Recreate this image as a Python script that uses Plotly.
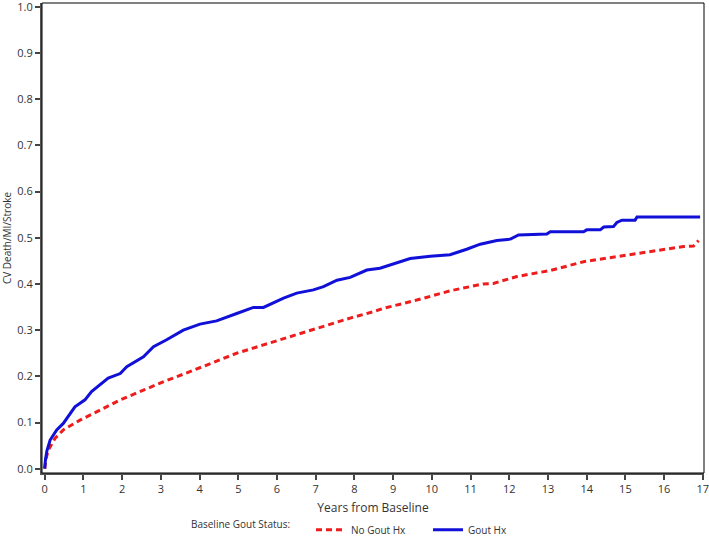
import plotly.graph_objects as go

# Gout Hx (blue)
gout_x = [0, 0.02, 0.06, 0.14, 0.31, 0.48, 0.78, 1.04, 1.21, 1.64, 1.95, 2.12, 2.55, 2.81, 3.15, 3.58,
          4.01, 4.44, 4.96, 5.39, 5.65, 6.17, 6.51, 6.94, 7.20, 7.55, 7.89, 8.06, 8.32, 8.66, 9.10,
          9.44, 9.96, 10.47, 10.90, 11.25, 11.68, 12.03, 12.24, 12.97, 13.06, 13.92, 14.0, 14.35,
          14.44, 14.69, 14.78, 14.91, 15.25, 15.30, 16.93]
gout_y = [0, 0.02, 0.04, 0.062, 0.084, 0.098, 0.134, 0.149, 0.167, 0.196, 0.206, 0.221, 0.242, 0.264,
          0.279, 0.300, 0.313, 0.320, 0.336, 0.349, 0.349, 0.369, 0.380, 0.387, 0.394, 0.408, 0.414,
          0.421, 0.430, 0.434, 0.445, 0.455, 0.460, 0.463, 0.475, 0.486, 0.494, 0.497, 0.506, 0.508,
          0.513, 0.513, 0.517, 0.517, 0.523, 0.524, 0.533, 0.538, 0.538, 0.545, 0.545]

# No Gout Hx (red)
nogout_x = [0, 0.03, 0.09, 0.27, 0.48, 0.91, 1.34, 1.95, 2.55, 3.06, 3.75, 4.44, 4.96, 5.65, 6.34,
            7.03, 7.72, 7.89, 8.41, 8.75, 9.61, 10.47, 11.33, 11.59, 12.20, 13.06, 13.92, 14.78,
            15.64, 16.50, 16.76, 16.89]
nogout_y = [0, 0.02, 0.040, 0.066, 0.084, 0.105, 0.123, 0.149, 0.170, 0.188, 0.210, 0.232, 0.250,
            0.268, 0.286, 0.304, 0.322, 0.326, 0.338, 0.347, 0.365, 0.385, 0.400, 0.401, 0.416,
            0.429, 0.448, 0.459, 0.470, 0.481, 0.482, 0.494]

x_ticks = list(range(0, 18))
y_ticks = [round(i * 0.1, 1) for i in range(11)]

font_family = "Open Sans, Lato, sans-serif"

fig = go.Figure()
fig.add_trace(go.Scatter(x=nogout_x, y=nogout_y, mode="lines", name="No Gout Hx",
                         line=dict(color="#ee1c1c", width=3, dash="6px,4px")))
fig.add_trace(go.Scatter(x=gout_x, y=gout_y, mode="lines", name="Gout Hx",
                         line=dict(color="#1010d8", width=3)))

fig.update_layout(
    width=709, height=536,
    margin=dict(l=42, r=5, t=3, b=63, autoexpand=False),
    paper_bgcolor="white", plot_bgcolor="white",
    font=dict(family=font_family, size=11, color="#333"),
    showlegend=True,
    legend=dict(orientation="h", x=0.222, y=-0.121, xanchor="left", yanchor="middle",
                title=dict(text="Baseline Gout Status:     ", side="left", font=dict(size=10)),
                font=dict(size=10), itemwidth=30, tracegroupgap=0, entrywidth=72,
                entrywidthmode="pixels"),
    xaxis=dict(range=[-0.07, 17.03], tickvals=x_ticks, ticks="outside", ticklen=5,
               tickcolor="#444", tickwidth=1.5, showline=True, linecolor="#555", linewidth=2,
               showgrid=False, zeroline=False, tickfont=dict(size=11), automargin=False,
               ticklabeloverflow="allow",
               title=dict(text="Years from Baseline", font=dict(size=12), standoff=8)),
    yaxis=dict(range=[-0.0093, 1.008], tickvals=y_ticks, tickformat=".1f", ticks="outside",
               ticklen=5, tickcolor="#444", tickwidth=1.5, showline=True, linecolor="#555",
               linewidth=2, showgrid=False, zeroline=False, tickfont=dict(size=11),
               automargin=False, ticklabeloverflow="allow",
               title=dict(text="CV Death/MI/Stroke", font=dict(size=10), standoff=6)),
)
fig.add_shape(type="rect", xref="paper", yref="paper", x0=0, y0=0, x1=1, y1=1,
              line=dict(color="black", width=1))

fig.write_html("out.html", config={"displayModeBar": False},
               post_script="document.body.style.margin='0';")
